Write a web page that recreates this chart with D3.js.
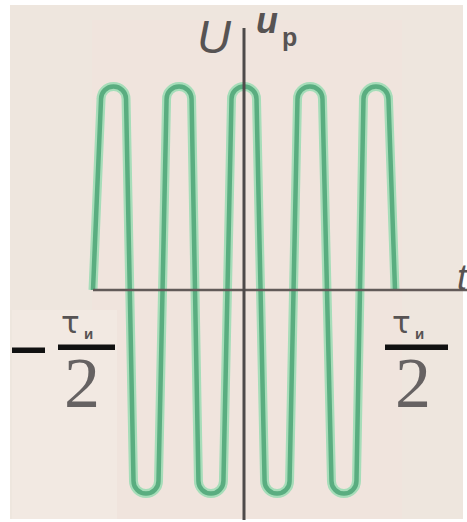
<!DOCTYPE html>
<html>
<head>
<meta charset="utf-8">
<script src="https://cdn.jsdelivr.net/npm/d3@7"></script>
<style>
  html, body { margin: 0; padding: 0; background: #ffffff; }
  svg { display: block; }
</style>
</head>
<body>
<script>
// Radio pulse u_p(t) on the window from −τи/2 to +τи/2 (t in units of τи/2)
const pulseEdges = [-1, 1];
// carrier extremes inside the pulse: times and normalised amplitudes
const extremeT = [-0.864, -0.649, -0.430, -0.219, 0, 0.219, 0.437, 0.662, 0.874];
const extremeU = [1, -1, 1, -1, 1, -1, 1, -1, 1];

// axis and edge labels
const yAxisLabel = "U";
const signalLabel = "u";
const signalSub = "р";
const xAxisLabel = "t";
const tauLabel = "τ";
const tauSub = "и";
const denomLabel = "2";

const W = 467, H = 522;

const svg = d3.select("body").append("svg")
  .attr("width", W).attr("height", H);

// paper
svg.append("rect").attr("width", W).attr("height", H).attr("fill", "#ffffff");
svg.append("rect").attr("x", 10).attr("y", 5).attr("width", 453).attr("height", 514)
  .attr("fill", "#eee6de");
svg.append("rect").attr("x", 92).attr("y", 20).attr("width", 310).attr("height", 499)
  .attr("fill", "#f1e2dc").attr("opacity", 0.5);
svg.append("rect").attr("x", 12).attr("y", 310).attr("width", 105).attr("height", 209)
  .attr("fill", "#f2e9e2");

const x = d3.scaleLinear().domain(pulseEdges).range([93, 395]);
const y = d3.scaleLinear().domain([-1, 1]).range([493.5, 86.5]);

const defs = svg.append("defs");
defs.append("filter").attr("id", "soft")
  .append("feGaussianBlur").attr("stdDeviation", 0.6);

// carrier: near-vertical strokes joined by rounded turns at each extreme
const r = 12.5;
const p = d3.path();
p.moveTo(x(pulseEdges[0]), y(0));
extremeT.forEach((t, i) => {
  const cx = x(t);
  const up = extremeU[i] > 0;
  const cy = up ? y(extremeU[i]) + r : y(extremeU[i]) - r;
  p.lineTo(cx - r, cy);
  if (up) p.arc(cx, cy, r, Math.PI, 2 * Math.PI, false);
  else p.arc(cx, cy, r, Math.PI, 0, true);
});
p.lineTo(x(pulseEdges[1]), y(0));

const wave = svg.append("g").attr("filter", "url(#soft)");
wave.append("path").attr("d", p.toString())
  .attr("fill", "none").attr("stroke", "#a6ddb9").attr("stroke-width", 9)
  .attr("stroke-linejoin", "round");
wave.append("path").attr("d", p.toString())
  .attr("fill", "none").attr("stroke", "#5aad80").attr("stroke-width", 4.5)
  .attr("stroke-linejoin", "round");

// axes
svg.append("line")
  .attr("x1", x(pulseEdges[0])).attr("x2", W)
  .attr("y1", y(0)).attr("y2", y(0))
  .attr("stroke", "#625a58").attr("stroke-width", 2.6);
svg.append("line")
  .attr("x1", x(0)).attr("x2", x(0))
  .attr("y1", 28).attr("y2", 520)
  .attr("stroke", "#4e4a4a").attr("stroke-width", 3);

const ink = "#575353";

// axis titles
svg.append("text").attr("x", 197).attr("y", 53)
  .attr("font-family", "Liberation Sans, Arial, sans-serif")
  .attr("font-style", "italic").attr("font-size", 47)
  .attr("fill", ink).text(yAxisLabel);
svg.append("text").attr("x", 256).attr("y", 33)
  .attr("font-family", "Liberation Sans, Arial, sans-serif")
  .attr("font-style", "italic").attr("font-weight", "bold").attr("font-size", 36)
  .attr("fill", ink).text(signalLabel);
svg.append("text").attr("x", 282).attr("y", 46)
  .attr("font-family", "Liberation Sans, Arial, sans-serif")
  .attr("font-weight", "bold").attr("font-size", 25)
  .attr("fill", ink).text(signalSub);
svg.append("text").attr("x", 457).attr("y", 290)
  .attr("font-family", "Liberation Sans, Arial, sans-serif")
  .attr("font-style", "italic").attr("font-size", 36)
  .attr("fill", ink).text(xAxisLabel);

// pulse edge labels: −τи/2 and τи/2
function fraction(g, cx, barLeft, barRight) {
  g.append("text").attr("x", cx - 25).attr("y", 333)
    .attr("font-family", "DejaVu Sans, sans-serif")
    .attr("font-size", 31).attr("fill", ink).text(tauLabel);
  g.append("text").attr("x", cx - 2).attr("y", 339)
    .attr("font-family", "Liberation Sans, Arial, sans-serif")
    .attr("font-weight", "bold").attr("font-size", 15).attr("fill", ink).text(tauSub);
  g.append("rect").attr("x", barLeft).attr("y", 344.5)
    .attr("width", barRight - barLeft).attr("height", 5.5).attr("fill", "#111");
  g.append("text").attr("x", cx - 22).attr("y", 407)
    .attr("font-family", "Liberation Serif, Times New Roman, serif")
    .attr("font-size", 72).attr("fill", "#666262").text(denomLabel);
}

const left = svg.append("g");
left.append("rect").attr("x", 12).attr("y", 347.5).attr("width", 33).attr("height", 5.5)
  .attr("fill", "#111");
fraction(left, 86, 58, 115);

const right = svg.append("g");
fraction(right, 417, 385, 448);
</script>
</body>
</html>
